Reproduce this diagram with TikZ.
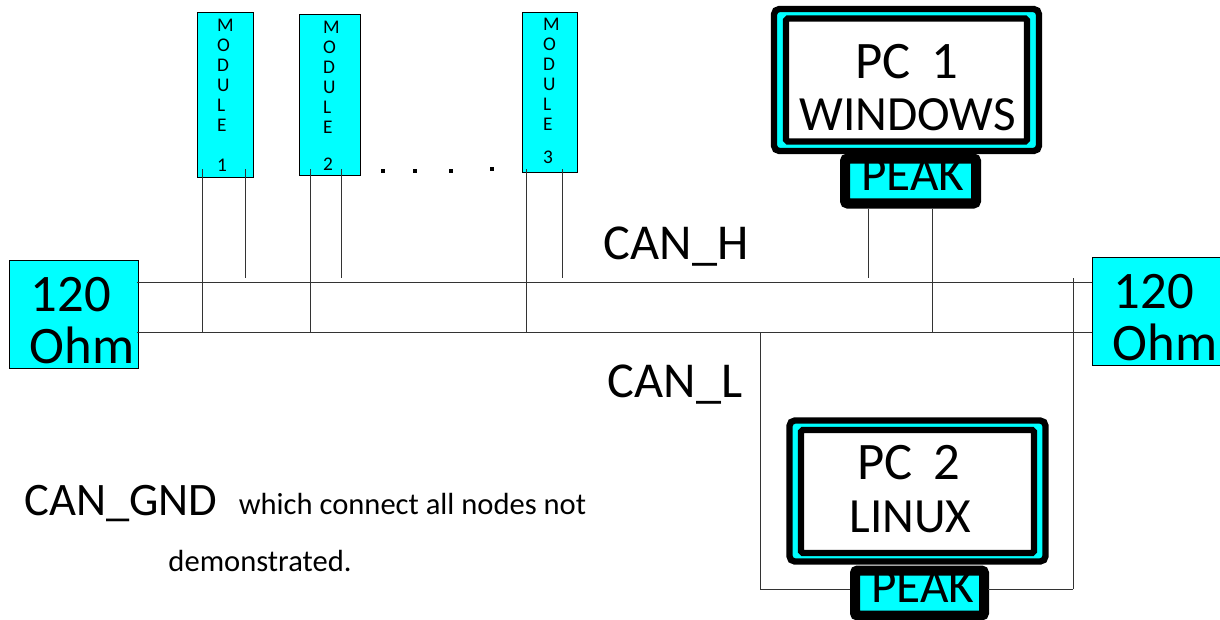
\documentclass[tikz,border=0pt]{standalone}
\usepackage[dvipsnames]{xcolor}
\usepackage{fontspec}
\setmainfont{Carlito}
\definecolor{busCyan}{RGB}{0,255,255}

\begin{document}
\begin{tikzpicture}[x=0.02cm,y=-0.02cm,-,inner sep=0pt,outer sep=0pt,
    cyan box/.style={draw=black,line width=0.5pt,fill=busCyan},
    pc outer/.style={draw=black,line width=3.6pt,fill=busCyan,rounded corners=3pt},
    pc inner/.style={draw=black,line width=3.6pt,fill=white,rounded corners=1pt},
    peak face/.style={fill=busCyan},
    peak frame/.style={draw=black,line width=5.7pt,rounded corners=1.5pt},
    wire/.style={draw=black!80,line width=0.5pt},
    dot/.style={fill=black,minimum size=2.6pt},
    module text/.style={anchor=north west,align=left,font=\fontsize{11}{11.45}\selectfont},
    ohm text/.style={anchor=base,font=\fontsize{30}{36}\selectfont},
    bus text/.style={anchor=base,font=\fontsize{28.6}{36}\selectfont},
    gnd text/.style={anchor=base,font=\fontsize{26.5}{32}\selectfont},
    note text/.style={anchor=base,font=\fontsize{17.4}{20}\selectfont},
    pc text/.style={anchor=base,font=\fontsize{30}{36}\selectfont},
    os text/.style={anchor=base,font=\fontsize{28}{34}\selectfont}]
    \useasboundingbox (0,0) rectangle (1220,619);

    % terminators and bus ends
    \node[cyan box,minimum width=129*0.02cm,minimum height=108*0.02cm] (leftohm) at (73.5,314) {};
    \node[cyan box,minimum width=128*0.02cm,minimum height=108*0.02cm] (rightohm) at (1156,311) {};
    \node[ohm text] (lefta) at (71,311) {120};
    \node[ohm text] (leftb) at (82,363) {Ohm};
    \node[ohm text] (righta) at (1154,308) {120};
    \node[ohm text] (rightb) at (1165,360) {Ohm};
    \coordinate (hleft) at (137,282);
    \coordinate (lleft) at (137,332);
    \coordinate (hright) at (1092,282);
    \coordinate (lright) at (1092,332);

    % modules
    \node[cyan box,minimum width=56*0.02cm,minimum height=165*0.02cm] (mod1) at (225,94.5) {};
    \node[cyan box,minimum width=61*0.02cm,minimum height=161*0.02cm] (mod2) at (329.5,94.5) {};
    \node[cyan box,minimum width=55*0.02cm,minimum height=160*0.02cm] (mod3) at (549.5,92) {};
    \node[module text] (mod1text) at (217,19) {M\\O\\D\\U\\L\\E\\[11pt]1};
    \node[module text] (mod2text) at (323,21) {M\\O\\D\\U\\L\\E\\[9.5pt]2};
    \node[module text] (mod3text) at (543,18) {M\\O\\D\\U\\L\\E\\[7pt]3};
    \node[dot] (dot1) at (383,171) {};
    \node[dot] (dot2) at (415,171) {};
    \node[dot] (dot3) at (451,171) {};
    \node[dot] (dot4) at (492,169) {};

    % PC 1
    \node[pc outer,minimum width=265*0.02cm,minimum height=142*0.02cm] (pc1) at (906.5,80) {};
    \node[pc inner,minimum width=241*0.02cm,minimum height=123*0.02cm] (pc1in) at (906.5,80) {};
    \node[pc text] (pc1a) at (907,78) {PC\, 1};
    \node[os text] (pc1b) at (907.5,130) {WINDOWS};
    \node[peak face,minimum width=131*0.02cm,minimum height=45*0.02cm] (peak1) at (910.5,181) {};
    \node[os text] (peak1text) at (913,190) {PEAK};
    \node[peak frame,minimum width=131*0.02cm,minimum height=45*0.02cm] (peak1box) at (910.5,181) {};

    % PC 2
    \node[pc outer,minimum width=256*0.02cm,minimum height=141*0.02cm] (pc2) at (917.5,491) {};
    \node[pc inner,minimum width=233*0.02cm,minimum height=123*0.02cm] (pc2in) at (917.5,491.5) {};
    \node[pc text] (pc2a) at (909,479) {PC\, 2};
    \node[os text] (pc2b) at (910.5,532) {LINUX};
    \node[peak face,minimum width=129*0.02cm,minimum height=45*0.02cm] (peak2) at (919.5,593) {};
    \node[os text] (peak2text) at (923,602) {PEAK};
    \node[peak frame,minimum width=129*0.02cm,minimum height=45*0.02cm] (peak2box) at (919.5,593) {};

    % labels
    \node[bus text] (canh) at (676,259) {CAN\_H};
    \node[bus text] (canl) at (675,397) {CAN\_L};
    \node[gnd text] (cangnd) at (121,515) {CAN\_GND};
    \node[note text] (note1) at (412.5,514) {which connect all nodes not};
    \node[note text] (note2) at (260,571) {demonstrated.};

    % tap points
    \coordinate (m1a) at (202,169);
    \coordinate (m1b) at (245,169);
    \coordinate (m2a) at (310,169);
    \coordinate (m2b) at (341,169);
    \coordinate (m3a) at (526,169);
    \coordinate (m3b) at (562,169);
    \coordinate (l1) at (202,332);
    \coordinate (l2) at (310,332);
    \coordinate (l3) at (526,332);
    \coordinate (h1) at (245,278);
    \coordinate (h2) at (341,278);
    \coordinate (h3) at (562,278);
    \coordinate (p1a) at (868,209);
    \coordinate (p1b) at (932,209);
    \coordinate (h4) at (868,278);
    \coordinate (l4) at (932,332);
    \coordinate (l5) at (760,332);
    \coordinate (c5) at (760,589);
    \coordinate (p2a) at (850,589);
    \coordinate (h5) at (1073,278);
    \coordinate (c6) at (1073,589);
    \coordinate (p2b) at (988,589);

    \path[wire]
        (hleft) edge (hright)
        (lleft) edge (lright)
        (m1a) edge (l1)
        (m1b) edge (h1)
        (m2a) edge (l2)
        (m2b) edge (h2)
        (m3a) edge (l3)
        (m3b) edge (h3)
        (p1a) edge (h4)
        (p1b) edge (l4)
        (l5) edge (c5)
        (c5) edge (p2a)
        (h5) edge (c6)
        (c6) edge (p2b)
        ;
\end{tikzpicture}
\end{document}
